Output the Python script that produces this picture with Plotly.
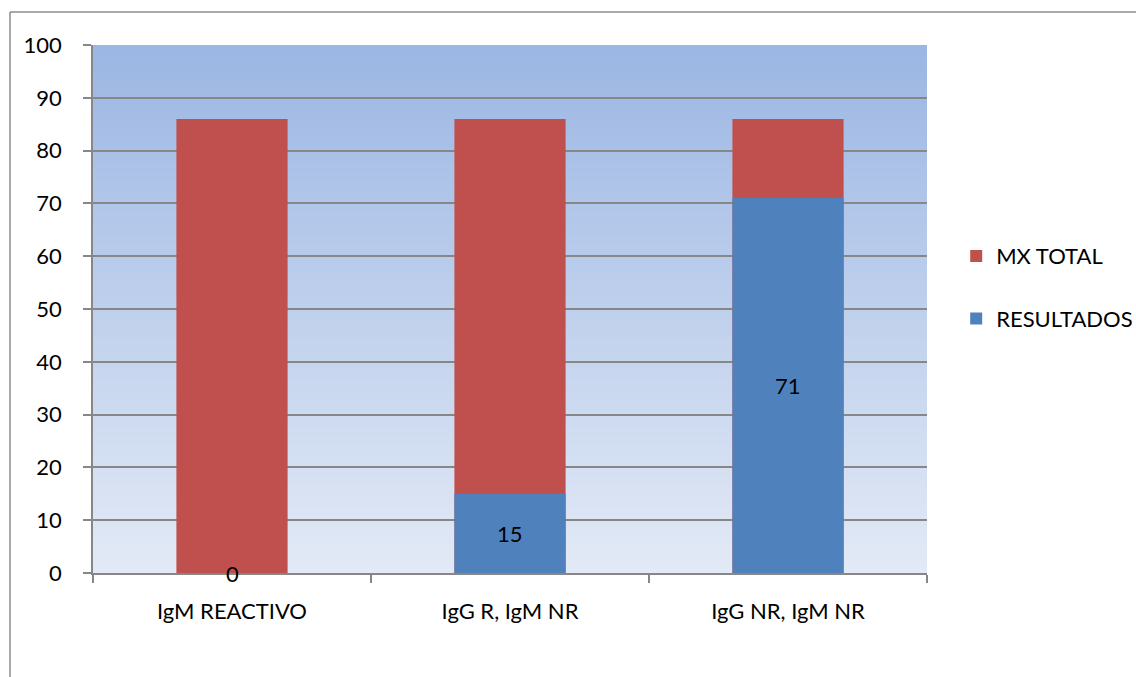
import plotly.graph_objects as go

# Data
categories = ["IgM REACTIVO", "IgG R, IgM NR", "IgG NR, IgM NR"]
mx_total = [86, 86, 86]
resultados = [0, 15, 71]
y_ticks = [0, 10, 20, 30, 40, 50, 60, 70, 80, 90, 100]

RED = "#C0504D"
BLUE = "#4F81BD"
GRID = "#878787"
FONT = "Lato"
FS = 22

fig = go.Figure()
fig.add_trace(go.Bar(
    x=categories, y=mx_total, name="MX TOTAL", marker_color=RED,
    marker_line_width=0, width=0.4, legendgroup="a", hoverinfo="skip",
))
fig.add_trace(go.Bar(
    x=categories, y=resultados, name="RESULTADOS", marker_color=BLUE,
    marker_line_width=0, width=0.4, legendgroup="b", hoverinfo="skip",
))

# value labels centred on the blue segments
for c, v in zip(categories, resultados):
    fig.add_annotation(x=c, y=v / 2, text=str(v), showarrow=False,
                       font=dict(family=FONT, size=FS, color="black"))

# vertical gradient for the plot background
def mix(c1, c2, t):
    return "#%02x%02x%02x" % tuple(round(a + (b - a) * t) for a, b in zip(c1, c2))

top_rgb = (0x9B, 0xB6, 0xE3)
bot_rgb = (0xE3, 0xEA, 0xF6)
n = 120
shapes = []
for i in range(n):
    y0 = i / n
    y1 = (i + 1) / n + 0.002
    shapes.append(dict(type="rect", xref="x domain", yref="y domain",
                       x0=0, x1=1, y0=y0, y1=min(y1, 1),
                       fillcolor=mix(bot_rgb, top_rgb, (i + 0.5) / n),
                       line_width=0, layer="below"))

# outer chart frame (left and top edges)
W, H = 1136, 677
ml, mr, mt, mb = 93, 209, 45, 104
pw, ph = W - ml - mr, H - mt - mb
def px_x(p):
    return (p - ml) / pw
def px_y(p):
    return (H - mb - p) / ph
shapes.append(dict(type="line", xref="paper", yref="paper",
                   x0=px_x(10), x1=px_x(10), y0=px_y(12), y1=px_y(H + 5),
                   line=dict(color="#8c8c8c", width=1.5)))
shapes.append(dict(type="line", xref="paper", yref="paper",
                   x0=px_x(10), x1=px_x(W + 5), y0=px_y(12), y1=px_y(12),
                   line=dict(color="#8c8c8c", width=1.5)))

fig.update_layout(
    width=W, height=H,
    margin=dict(l=ml, r=mr, t=mt, b=mb, autoexpand=False),
    barmode="overlay",
    paper_bgcolor="white",
    plot_bgcolor="rgba(0,0,0,0)",
    font=dict(family=FONT, size=FS, color="black"),
    shapes=shapes,
    showlegend=True,
    legend=dict(x=1.035, y=0.64, xanchor="left", yanchor="top",
                traceorder="grouped", tracegroupgap=31,
                font=dict(family=FONT, size=FS),
                bgcolor="rgba(0,0,0,0)", itemclick=False),
    xaxis=dict(
        showline=True, linecolor=GRID, linewidth=1.5,
        ticks="outside", tickson="boundaries", ticklen=8,
        tickcolor=GRID, tickwidth=1.5, showgrid=False,
        ticklabelstandoff=18, automargin=False,
        tickfont=dict(family=FONT, size=FS),
    ),
    yaxis=dict(
        range=[0, 100], tickvals=y_ticks,
        showline=True, linecolor=GRID, linewidth=1.5,
        ticks="outside", ticklen=8, tickcolor=GRID, tickwidth=1.5,
        showgrid=True, gridcolor=GRID, gridwidth=1.5,
        zeroline=False, ticklabelstandoff=17, automargin=False,
        tickfont=dict(family=FONT, size=FS),
    ),
)

fig.write_html("out.html")
